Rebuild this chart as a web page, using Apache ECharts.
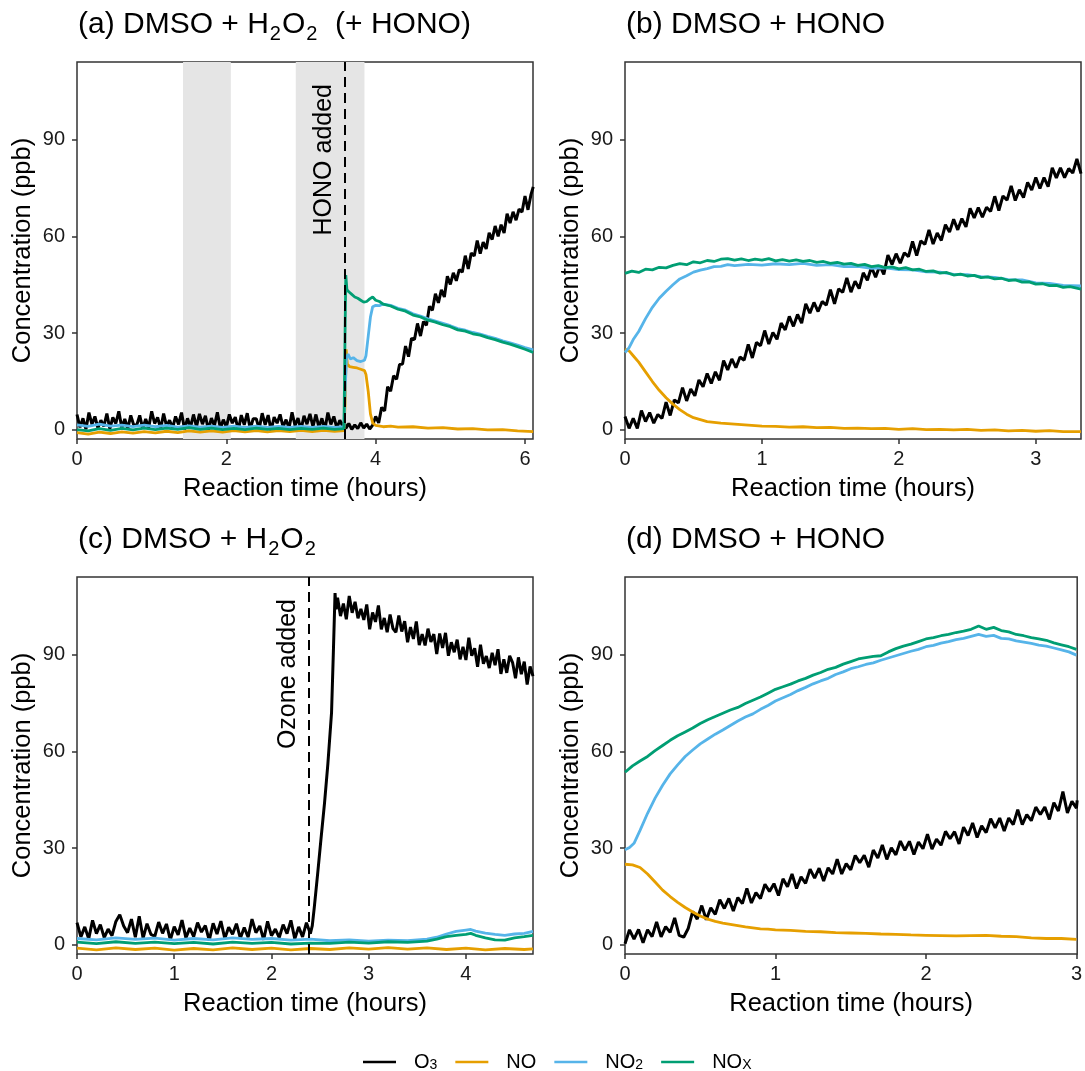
<!DOCTYPE html>
<html>
<head>
<meta charset="utf-8">
<script src="https://cdn.jsdelivr.net/npm/echarts@6/dist/echarts.min.js"></script>
<style>
html, body { margin: 0; padding: 0; background: #fff; }
#chart { width: 1085px; height: 1071px; }
</style>
</head>
<body>
<div id="chart"></div>
<script>
// ---- ticks / events ----
const yTicks = [0, 30, 60, 90];
const xTicksA = [0, 2, 4, 6];
const xTicksB = [0, 1, 2, 3];
const xTicksC = [0, 1, 2, 3, 4];
const xTicksD = [0, 1, 2, 3];
const xMax = [6.107, 3.33, 4.69, 3.005];
const shadeA = [[1.42, 2.06], [2.93, 3.85]];
const honoAdded = 3.577;
const ozoneAdded = 2.379;

// ---- (a) DMSO + H2O2 (+ HONO) ----
const aO3 = [[0,4.8],[0.04,0.8],[0.08,3.6],[0.12,0.2],[0.16,5.4],[0.2,1.7],[0.24,4.2],[0.28,0.6],[0.32,3.0],[0.36,1.1],
  [0.4,5.1],[0.44,0.3],[0.48,3.9],[0.52,2.0],[0.56,5.8],[0.6,0.7],[0.64,3.4],[0.68,0.4],[0.72,4.5],[0.76,1.5],
  [0.8,1.5],[0.84,4.5],[0.88,0.4],[0.92,3.4],[0.96,0.7],[1.0,5.8],[1.04,2.0],[1.08,3.9],[1.12,0.3],[1.16,5.1],
  [1.2,1.1],[1.24,3.0],[1.28,0.6],[1.32,4.2],[1.36,1.7],[1.4,5.4],[1.44,0.2],[1.48,3.6],[1.52,0.8],[1.56,4.8],
  [1.6,1.0],[1.64,5.0],[1.68,1.8],[1.72,4.4],[1.76,0.0],[1.8,3.7],[1.84,1.3],[1.88,5.5],[1.92,0.5],[1.96,3.2],
  [2.0,0.9],[2.04,4.8],[2.08,2.1],[2.12,4.0],[2.16,-0.2],[2.2,4.6],[2.24,1.6],[2.28,5.2],[2.32,0.3],[2.36,3.5],
  [2.4,3.5],[2.44,0.3],[2.48,5.2],[2.52,1.6],[2.56,4.6],[2.6,-0.2],[2.64,4.0],[2.68,2.1],[2.72,4.8],[2.76,0.9],
  [2.8,3.2],[2.84,0.5],[2.88,5.5],[2.92,1.3],[2.96,3.7],[3.0,0.0],[3.04,4.4],[3.08,1.8],[3.12,5.0],[3.16,1.0],
  [3.2,4.8],[3.24,0.8],[3.28,3.6],[3.32,0.2],[3.36,5.4],[3.4,1.7],[3.44,4.2],[3.48,0.6],[3.52,3.0],[3.56,1.1],
  [3.58,2.5],[3.6,0.5],[3.64,2.0],[3.68,0.2],[3.72,1.6],[3.76,0.4],[3.8,2.2],[3.84,0.6],[3.88,1.8],[3.92,0.3],
  [3.96,1.5],[4.0,4.2],[4.04,2.2],[4.08,7.0],[4.12,5.9],[4.16,13.4],[4.2,12.0],[4.24,16.8],[4.28,15.7],[4.32,20.3],
  [4.36,20.4],[4.4,26.0],[4.44,22.7],[4.48,28.4],[4.52,28.0],[4.56,33.0],[4.6,29.1],[4.64,33.6],[4.68,32.4],
  [4.72,38.3],[4.76,37.1],[4.8,42.2],[4.84,39.4],[4.88,43.4],[4.92,41.2],[4.96,47.6],[5.0,45.1],[5.04,48.7],
  [5.08,46.2],[5.12,49.7],[5.16,48.9],[5.2,54.0],[5.24,49.9],[5.28,54.8],[5.32,53.9],[5.36,58.7],[5.4,54.6],
  [5.44,58.2],[5.48,56.1],[5.52,61.1],[5.56,59.0],[5.6,63.2],[5.64,60.0],[5.68,63.6],[5.72,61.0],[5.76,67.0],
  [5.8,64.1],[5.84,67.6],[5.88,65.0],[5.92,68.4],[5.96,67.5],[6.0,72.5],[6.04,68.2],[6.08,72.9],[6.11,75.3]];
const aNO = [[0,-0.8],[0.15,-1.3],[0.3,-0.7],[0.45,-1.1],[0.6,-0.6],[0.75,-1.0],[0.9,-0.5],[1.05,-0.9],[1.2,-0.4],
  [1.35,-0.8],[1.5,-0.3],[1.65,-0.7],[1.8,-0.3],[1.95,-0.7],[2.1,-0.2],[2.25,-0.6],[2.4,-0.2],[2.55,-0.6],
  [2.7,-0.2],[2.85,-0.5],[3.0,-0.1],[3.15,-0.5],[3.3,-0.1],[3.45,-0.4],[3.575,-0.2],
  [3.59,8],[3.605,25],[3.62,20.5],[3.65,19.6],[3.7,19.4],[3.75,19.2],[3.8,18.8],[3.85,18.4],[3.87,17.2],
  [3.9,12],[3.93,5],[3.96,2.2],[4.0,1.4],[4.1,1.0],[4.2,1.2],[4.3,0.9],[4.5,1.0],[4.7,0.6],[4.9,0.7],
  [5.1,0.3],[5.3,0.4],[5.5,0.0],[5.7,0.1],[5.9,-0.3],[6.11,-0.5]];
const aNO2 = [[0,1.6],[0.15,1.1],[0.3,1.8],[0.45,1.2],[0.6,1.5],[0.75,1.0],[0.9,1.5],[1.05,1.0],[1.2,1.4],
  [1.35,0.9],[1.5,1.3],[1.65,0.9],[1.8,1.2],[1.95,0.8],[2.1,1.2],[2.25,0.8],[2.4,1.2],[2.55,0.8],[2.7,1.1],
  [2.85,0.8],[3.0,1.1],[3.15,0.8],[3.3,1.1],[3.45,0.8],[3.575,1.0],
  [3.59,12],[3.61,22.5],[3.63,23.5],[3.66,22.0],[3.7,22.4],[3.75,21.5],[3.8,21.2],[3.85,21.6],[3.87,23],
  [3.9,29],[3.93,35],[3.96,38.2],[4.0,38.6],[4.05,38.5],[4.1,39.0],[4.2,38.6],[4.3,37.7],[4.4,37.1],
  [4.5,36.0],[4.6,35.3],[4.7,34.4],[4.8,33.7],[4.9,33.0],[5.0,32.3],[5.1,31.4],[5.2,30.9],[5.3,30.2],
  [5.4,29.7],[5.5,29.0],[5.6,28.4],[5.7,27.6],[5.8,27.0],[5.9,26.3],[6.0,25.5],[6.11,24.8]];
const aNOx = [[0,0.1],[0.15,-0.3],[0.3,0.4],[0.45,-0.1],[0.6,0.5],[0.75,0.0],[0.9,0.6],[1.05,0.1],[1.2,0.6],
  [1.35,0.2],[1.5,0.7],[1.65,0.2],[1.8,0.6],[1.95,0.1],[2.1,0.5],[2.25,0.1],[2.4,0.6],[2.55,0.2],[2.7,0.5],
  [2.85,0.1],[3.0,0.5],[3.15,0.2],[3.3,0.6],[3.45,0.2],[3.575,0.4],
  [3.59,30],[3.6,48],[3.615,43.5],[3.64,42.8],[3.68,42.0],[3.72,41.2],[3.76,40.8],[3.8,40.2],[3.84,39.6],
  [3.88,39.8],[3.92,40.6],[3.96,41.2],[4.0,40.2],[4.05,39.8],[4.1,39.0],[4.2,38.4],[4.3,37.4],[4.4,36.8],
  [4.5,35.6],[4.6,35.0],[4.7,34.0],[4.8,33.4],[4.9,32.6],[5.0,32.0],[5.1,31.0],[5.2,30.6],[5.3,29.8],
  [5.4,29.4],[5.5,28.6],[5.6,28.0],[5.7,27.2],[5.8,26.6],[5.9,25.8],[6.0,25.0],[6.11,24.0]];

// ---- (b) DMSO + HONO ----
const bO3 = [[0,4.2],[0.03,0.5],[0.06,3.6],[0.09,0.5],[0.12,6.0],[0.15,2.6],[0.18,5.4],[0.21,2.1],[0.24,4.8],
  [0.27,3.6],[0.3,8.6],[0.33,4.5],[0.36,9.3],[0.39,8.4],[0.42,13.1],[0.45,9.0],[0.48,12.7],[0.51,10.6],
  [0.54,15.5],[0.57,13.4],[0.6,17.5],[0.63,14.4],[0.66,18.0],[0.69,15.4],[0.72,21.5],[0.75,18.6],[0.78,22.0],
  [0.81,19.3],[0.84,22.6],[0.87,21.6],[0.9,26.5],[0.93,22.3],[0.96,27.1],[0.99,26.1],[1.02,30.8],[1.05,26.6],
  [1.08,30.2],[1.11,28.1],[1.14,33.1],[1.17,31.0],[1.2,35.2],[1.23,32.1],[1.26,35.8],[1.29,33.1],[1.32,39.1],
  [1.35,36.2],[1.38,39.5],[1.41,36.7],[1.44,39.8],[1.47,38.7],[1.5,43.5],[1.53,39.1],[1.56,43.7],[1.59,42.6],
  [1.62,47.1],[1.65,42.7],[1.68,46.1],[1.71,43.8],[1.74,48.7],[1.77,46.4],[1.8,50.5],[1.83,47.3],[1.86,50.9],
  [1.89,48.2],[1.92,54.2],[1.95,51.3],[1.98,54.6],[2.01,51.7],[2.04,54.9],[2.07,53.7],[2.1,58.4],[2.13,54.0],
  [2.16,58.6],[2.19,57.5],[2.22,62.0],[2.25,57.6],[2.28,61.0],[2.31,58.7],[2.34,63.6],[2.37,61.3],[2.4,65.3],
  [2.43,62.0],[2.46,65.5],[2.49,62.9],[2.52,68.7],[2.55,65.7],[2.58,68.9],[2.61,65.9],[2.64,69.0],[2.67,67.7],
  [2.7,72.4],[2.73,68.0],[2.76,72.5],[2.79,71.2],[2.82,75.6],[2.85,71.1],[2.88,74.4],[2.91,72.0],[2.94,76.7],
  [2.97,74.3],[3.0,78.2],[3.03,74.8],[3.06,78.2],[3.09,75.4],[3.12,81.2],[3.15,78.1],[3.18,81.2],[3.21,78.2],
  [3.24,81.0],[3.27,79.6],[3.3,84.0],[3.33,79.4]];
const bNO = [[0,25],[0.03,24.5],[0.06,23],[0.1,21],[0.15,18],[0.2,15],[0.25,12.3],[0.3,10],[0.35,8],[0.4,6.3],
  [0.45,4.9],[0.5,3.8],[0.55,3.2],[0.6,2.6],[0.7,2.1],[0.8,1.8],[0.9,1.5],[1.0,1.2],[1.1,1.1],[1.2,0.9],
  [1.3,1.0],[1.4,0.7],[1.5,0.8],[1.6,0.5],[1.7,0.6],[1.8,0.4],[1.9,0.5],[2.0,0.2],[2.1,0.4],[2.2,0.1],
  [2.3,0.2],[2.4,0.0],[2.5,0.2],[2.6,-0.1],[2.7,0.0],[2.8,-0.3],[2.9,-0.1],[3.0,-0.4],[3.1,-0.2],[3.2,-0.5],[3.33,-0.5]];
const bNO2 = [[0,24],[0.03,25.5],[0.06,28],[0.1,30.5],[0.15,34.5],[0.2,38],[0.25,40.8],[0.3,43],[0.35,45],
  [0.4,46.8],[0.45,47.8],[0.5,48.9],[0.55,49.5],[0.6,50],[0.65,50.6],[0.7,50.7],[0.75,51.2],[0.8,50.9],
  [0.9,51.3],[1.0,51.1],[1.1,51.5],[1.2,51.2],[1.3,51.6],[1.4,51.0],[1.5,51.2],[1.6,50.6],[1.7,50.7],
  [1.8,50.1],[1.9,50.2],[2.0,49.7],[2.1,49.6],[2.2,49.0],[2.3,48.9],[2.4,48.2],[2.5,48.1],[2.6,47.5],
  [2.7,47.3],[2.8,46.6],[2.9,46.5],[3.0,45.6],[3.1,45.4],[3.2,44.8],[3.33,44.6]];
const bNOx = [[0,48.5],[0.05,49.2],[0.1,48.8],[0.15,49.8],[0.2,49.6],[0.25,50.4],[0.3,50.2],[0.35,51.0],
  [0.4,51.5],[0.45,51.2],[0.5,52.1],[0.55,51.8],[0.6,52.5],[0.65,52.2],[0.7,52.9],[0.75,53.1],[0.8,52.6],
  [0.85,53.0],[0.9,52.5],[0.95,52.9],[1.0,52.6],[1.05,53.1],[1.1,52.4],[1.15,52.8],[1.2,52.3],[1.25,52.7],
  [1.3,52.2],[1.35,52.5],[1.4,51.9],[1.45,52.2],[1.5,51.6],[1.55,51.9],[1.6,51.4],[1.65,51.6],[1.7,51.0],
  [1.75,51.3],[1.8,50.6],[1.85,50.9],[1.9,50.3],[1.95,50.5],[2.0,49.9],[2.05,50.3],[2.1,49.6],[2.15,49.8],
  [2.2,49.1],[2.25,49.3],[2.3,48.6],[2.35,48.8],[2.4,48.0],[2.45,48.3],[2.5,47.7],[2.55,47.9],[2.6,47.2],
  [2.65,47.4],[2.7,46.8],[2.75,47.0],[2.8,46.3],[2.85,46.5],[2.9,45.8],[2.95,45.9],[3.0,45.2],[3.05,45.3],
  [3.1,44.7],[3.15,44.8],[3.2,44.2],[3.25,44.4],[3.33,43.6]];

// ---- (c) DMSO + H2O2 ----
const cO3 = [[0,6.9],[0.04,2.5],[0.08,5.6],[0.12,1.9],[0.16,7.6],[0.2,3.5],[0.24,6.3],[0.28,2.3],[0.32,4.9],
  [0.36,2.9],[0.4,7.3],[0.44,9.4],[0.48,5.9],[0.52,3.8],[0.56,8.0],[0.6,2.4],[0.64,8.9],[0.68,2.1],[0.72,6.6],
  [0.76,3.3],[0.8,2.7],[0.84,7.1],[0.88,3.6],[0.92,6.5],[0.96,1.6],[1.0,5.7],[1.04,3.1],[1.08,7.7],[1.12,2.2],
  [1.16,5.2],[1.2,2.6],[1.24,6.9],[1.28,4.0],[1.32,6.0],[1.36,1.4],[1.4,6.7],[1.44,3.4],[1.48,7.4],[1.52,2.0],
  [1.56,5.5],[1.6,3.3],[1.64,6.6],[1.68,2.1],[1.72,5.4],[1.76,2.4],[1.8,8.0],[1.84,3.8],[1.88,5.9],[1.92,1.6],
  [1.96,7.3],[2.0,2.9],[2.04,4.9],[2.08,2.3],[2.12,6.3],[2.16,3.5],[2.2,7.6],[2.24,1.9],[2.28,5.6],[2.32,2.5],
  [2.36,6.9],[2.4,3.5],[2.42,6],[2.44,11.5],[2.475,22],[2.51,33],[2.546,44],[2.58,56],[2.618,72],[2.636,90],
  [2.654,109],[2.665,104],[2.68,107.6],[2.71,101.9],[2.74,105.8],[2.77,100.9],[2.8,108.1],[2.83,102.9],
  [2.86,106.3],[2.89,101.2],[2.92,104.1],[2.95,100.7],[2.98,105.5],[3.01,97.8],[3.04,103.0],[3.07,100.1],
  [3.1,105.2],[3.13,97.8],[3.16,101.3],[3.19,96.9],[3.22,102.4],[3.25,98.0],[3.28,96.9],[3.31,102.1],
  [3.34,97.1],[3.37,100.3],[3.4,93.8],[3.43,98.5],[3.46,94.8],[3.49,100.2],[3.52,92.9],[3.55,96.3],
  [3.58,92.8],[3.61,98.0],[3.64,93.9],[3.67,96.3],[3.7,90.1],[3.73,96.5],[3.76,92.0],[3.79,96.7],
  [3.82,89.6],[3.85,93.8],[3.88,90.7],[3.91,94.6],[3.94,88.5],[3.97,92.4],[4.0,88.3],[4.03,95.2],
  [4.06,89.6],[4.09,91.9],[4.12,86.2],[4.15,93.0],[4.18,87.1],[4.21,89.5],[4.24,85.8],[4.27,90.5],
  [4.3,86.7],[4.33,91.6],[4.36,84.0],[4.39,88.5],[4.42,84.3],[4.45,89.6],[4.48,87.5],[4.51,82.6],
  [4.54,89.1],[4.57,83.9],[4.6,87.8],[4.63,80.7],[4.66,86.3],[4.69,83.3]];
const cNO = [[0,-1.0],[0.2,-1.5],[0.4,-0.9],[0.6,-1.4],[0.8,-1.0],[1.0,-1.6],[1.2,-1.1],[1.4,-1.5],[1.6,-0.9],
  [1.8,-1.4],[2.0,-1.0],[2.2,-1.5],[2.4,-1.1],[2.6,-1.4],[2.8,-0.9],[3.0,-1.3],[3.2,-0.8],[3.4,-1.3],
  [3.6,-0.9],[3.8,-1.4],[4.0,-1.0],[4.2,-1.5],[4.4,-1.1],[4.6,-1.4],[4.69,-1.2]];
const cNO2 = [[0,2.0],[0.2,1.6],[0.4,2.2],[0.6,1.7],[0.8,2.1],[1.0,1.5],[1.2,2.0],[1.4,1.6],[1.6,2.2],[1.8,1.7],
  [2.0,2.0],[2.2,1.5],[2.4,1.8],[2.6,1.3],[2.8,1.6],[3.0,1.2],[3.2,1.5],[3.4,1.3],[3.6,1.8],[3.7,2.4],
  [3.8,3.4],[3.9,4.2],[4.0,4.6],[4.05,4.8],[4.1,4.3],[4.2,3.7],[4.3,3.3],[4.4,3.0],[4.5,3.4],[4.6,3.6],[4.69,4.2]];
const cNOx = [[0,0.9],[0.2,0.4],[0.4,1.0],[0.6,0.5],[0.8,0.9],[1.0,0.4],[1.2,0.8],[1.4,0.3],[1.6,0.9],[1.8,0.5],
  [2.0,0.8],[2.2,0.3],[2.4,0.6],[2.6,0.5],[2.8,0.9],[3.0,0.6],[3.2,1.0],[3.4,0.8],[3.6,1.2],[3.7,1.8],
  [3.8,2.6],[3.9,3.0],[4.0,3.3],[4.05,3.6],[4.1,3.0],[4.2,2.2],[4.3,1.6],[4.4,1.5],[4.5,2.2],[4.6,2.6],[4.69,3.0]];

// ---- (d) DMSO + HONO ----
const dO3 = [[0,0.4],[0.03,4.7],[0.06,1.8],[0.09,4.8],[0.12,0.7],[0.15,4.7],[0.18,2.6],[0.21,7.1],[0.24,2.5],
  [0.27,5.7],[0.3,3.9],[0.33,8.4],[0.36,3.0],[0.39,2.4],[0.42,5.1],[0.45,10.4],[0.48,8.0],[0.51,12.2],
  [0.54,7.8],[0.57,11.5],[0.6,9.5],[0.63,14.0],[0.66,11.3],[0.69,14.4],[0.72,10.5],[0.75,14.7],[0.78,12.8],
  [0.81,17.5],[0.84,13.0],[0.87,16.2],[0.9,14.4],[0.93,18.8],[0.96,16.6],[0.99,19.0],[1.02,15.3],[1.05,20.5],
  [1.08,18.0],[1.11,22.0],[1.14,17.5],[1.17,21.1],[1.2,19.1],[1.23,23.5],[1.26,20.7],[1.29,23.8],[1.32,19.8],
  [1.35,23.9],[1.38,22.0],[1.41,26.6],[1.44,22.0],[1.47,25.2],[1.5,23.3],[1.53,27.7],[1.56,25.5],[1.59,27.8],
  [1.62,24.1],[1.65,29.4],[1.68,26.9],[1.71,31.0],[1.74,26.5],[1.77,30.1],[1.8,27.9],[1.83,32.2],[1.86,29.3],
  [1.89,32.1],[1.92,28.0],[1.95,31.9],[1.98,29.8],[2.01,34.3],[2.04,29.7],[2.07,32.8],[2.1,30.9],[2.13,35.2],
  [2.16,32.9],[2.19,35.1],[2.22,31.3],[2.25,36.5],[2.28,33.9],[2.31,37.8],[2.34,33.3],[2.37,36.9],[2.4,34.8],
  [2.43,39.1],[2.46,36.3],[2.49,39.3],[2.52,35.3],[2.55,39.3],[2.58,37.3],[2.61,41.9],[2.64,37.3],[2.67,40.4],
  [2.7,38.5],[2.73,42.7],[2.76,40.4],[2.79,42.7],[2.82,38.9],[2.85,44.1],[2.88,41.5],[2.91,47.5],[2.94,40.9],
  [2.97,44.5],[3.0,42.4],[3.005,44.8]];
const dNO = [[0,25],[0.05,24.8],[0.1,24.0],[0.15,22.0],[0.2,19.5],[0.25,17.0],[0.3,15.0],[0.35,13.2],[0.4,11.6],
  [0.45,10.2],[0.5,9.0],[0.55,8.0],[0.6,7.3],[0.65,6.8],[0.7,6.4],[0.75,6.0],[0.8,5.6],[0.85,5.3],[0.9,5.0],
  [0.95,4.9],[1.0,4.7],[1.1,4.5],[1.2,4.2],[1.3,4.1],[1.4,3.8],[1.5,3.7],[1.6,3.6],[1.7,3.4],[1.8,3.3],
  [1.9,3.1],[2.0,3.0],[2.1,2.9],[2.2,2.8],[2.3,2.9],[2.4,3.0],[2.5,2.7],[2.6,2.6],[2.7,2.2],[2.8,2.0],
  [2.9,2.0],[3.0,1.7]];
const dNO2 = [[0,29.5],[0.03,30.2],[0.06,31.5],[0.1,35.5],[0.15,40.8],[0.2,45.5],[0.25,49.5],[0.3,53.0],
  [0.35,55.8],[0.4,58.4],[0.45,60.4],[0.5,62.3],[0.55,63.8],[0.6,65.3],[0.65,66.6],[0.7,68.0],[0.75,69.4],
  [0.8,70.6],[0.85,71.6],[0.9,73.0],[0.95,74.2],[1.0,75.6],[1.05,76.6],[1.1,77.6],[1.15,78.8],[1.2,79.8],
  [1.25,80.9],[1.3,81.8],[1.35,82.6],[1.4,83.8],[1.45,84.6],[1.5,85.6],[1.55,86.2],[1.6,86.9],[1.65,87.4],
  [1.7,88.2],[1.75,88.9],[1.8,89.6],[1.85,90.3],[1.9,91.0],[1.95,91.6],[2.0,92.4],[2.05,92.8],[2.1,93.5],
  [2.15,94.0],[2.2,94.6],[2.25,95.0],[2.3,95.6],[2.35,96.2],[2.4,95.6],[2.45,95.9],[2.5,95.0],[2.55,94.8],
  [2.6,94.2],[2.65,93.8],[2.7,93.4],[2.75,92.9],[2.8,92.6],[2.85,92.0],[2.9,91.4],[2.95,90.8],[3.0,89.8]];
const dNOx = [[0,53.5],[0.05,55.5],[0.1,57.0],[0.15,58.4],[0.2,60.2],[0.25,61.8],[0.3,63.4],[0.35,64.8],
  [0.4,66.0],[0.45,67.2],[0.5,68.6],[0.55,69.8],[0.6,70.8],[0.65,71.8],[0.7,72.8],[0.75,73.6],[0.8,74.8],
  [0.85,75.8],[0.9,76.8],[0.95,78.0],[1.0,79.2],[1.05,80.0],[1.1,80.8],[1.15,81.8],[1.2,82.6],[1.25,83.6],
  [1.3,84.4],[1.35,85.4],[1.4,86.0],[1.45,87.0],[1.5,87.8],[1.55,88.6],[1.6,89.0],[1.65,89.4],[1.7,89.6],
  [1.75,90.8],[1.8,91.8],[1.85,92.6],[1.9,93.2],[1.95,94.0],[2.0,94.8],[2.05,95.2],[2.1,95.8],[2.15,96.2],
  [2.2,96.8],[2.25,97.2],[2.3,97.8],[2.35,98.8],[2.4,97.8],[2.45,98.4],[2.5,97.4],[2.55,97.0],[2.6,96.2],
  [2.65,95.8],[2.7,95.2],[2.75,94.8],[2.8,94.4],[2.85,93.6],[2.9,93.0],[2.95,92.4],[3.0,91.6]];

const colors = { O3: '#000000', NO: '#E69F00', NO2: '#56B4E9', NOx: '#009E73' };
const legendText = { O3: '{f|O}{s|3}', NO: '{f|NO}', NO2: '{f|NO}{s|2}', NOx: '{f|NO}{s|X}' };
const font = 'Liberation Sans, Arial, sans-serif';

var myChart = echarts.init(document.getElementById('chart'));

function xAxisOf(i, ticks) {
    return {
        type: 'value', gridIndex: i, min: 0, max: xMax[i],
        name: 'Reaction time (hours)', nameLocation: 'middle', nameGap: 37,
        nameTextStyle: { fontSize: 25.5, color: '#000', fontFamily: font },
        axisLine: { show: false, onZero: false },
        axisTick: { show: true, length: 5, customValues: ticks, lineStyle: { color: '#333', width: 1.5 } },
        axisLabel: { customValues: ticks, fontSize: 20, color: '#1a1a1a', margin: 10, fontFamily: font },
        splitLine: { show: false }
    };
}

function yAxisOf(i) {
    return {
        type: 'value', gridIndex: i, min: -2.8, max: 114,
        name: 'Concentration (ppb)', nameLocation: 'middle', nameGap: 41,
        nameTextStyle: { fontSize: 25.5, color: '#000', fontFamily: font },
        axisLine: { show: false, onZero: false },
        axisTick: { show: true, length: 5, customValues: yTicks, lineStyle: { color: '#333', width: 1.5 } },
        axisLabel: { customValues: yTicks, fontSize: 20, color: '#1a1a1a', margin: 12, fontFamily: font },
        splitLine: { show: false }
    };
}

function line(i, name, data, extra) {
    return Object.assign({
        name: name, type: 'line', xAxisIndex: i, yAxisIndex: i,
        data: data, showSymbol: false, symbol: 'none', animation: false,
        lineStyle: { color: colors[name], width: name === 'O3' ? 3 : 2.8 },
        itemStyle: { color: colors[name] },
        emphasis: { disabled: true }
    }, extra || {});
}

function addedLine(x, text) {
    return {
        silent: true, symbol: ['none', 'none'], animation: false,
        lineStyle: { color: '#000', type: [10, 6], width: 2 },
        label: {
            show: true, formatter: text, position: 'insideEndTop',
            fontSize: 25, color: '#000', fontFamily: font, distance: [22, 8]
        },
        data: [{ xAxis: x }]
    };
}

function titleOf(text, left, top) {
    return {
        text: text, left: left, top: top, padding: 0,
        textStyle: {
            fontFamily: font, fontWeight: 'normal',
            rich: {
                m: { fontSize: 30, lineHeight: 38, color: '#000', fontFamily: font, fontWeight: 'normal' },
                s: { fontSize: 20, lineHeight: 22, verticalAlign: 'bottom', color: '#000', fontFamily: font,
                     fontWeight: 'normal', padding: [0, 1, 0, 1] }
            }
        }
    };
}

myChart.setOption({
    animation: false,
    textStyle: { fontFamily: font },
    title: [
        titleOf('{m|(a) DMSO + H}{s|2}{m|O}{s|2}{m|  (+ HONO)}', 78, 6),
        titleOf('{m|(b) DMSO + HONO}', 626, 6),
        titleOf('{m|(c) DMSO + H}{s|2}{m|O}{s|2}', 78, 521),
        titleOf('{m|(d) DMSO + HONO}', 626, 521)
    ],
    legend: {
        data: ['O3', 'NO', 'NO2', 'NOx'],
        left: 363, top: 1052, padding: 0,
        icon: 'rect', itemWidth: 33, itemHeight: 2.5, itemGap: 18,
        selectedMode: false,
        formatter: function (name) { return legendText[name]; },
        textStyle: {
            fontFamily: font, fontSize: 20, color: '#000',
            rich: {
                f: { fontSize: 20, padding: [0, 0, 0, 13], color: '#000', fontFamily: font },
                s: { fontSize: 14, lineHeight: 15, verticalAlign: 'bottom', color: '#000', fontFamily: font }
            }
        }
    },
    grid: [
        { left: 77, top: 62, width: 456, height: 377 },
        { left: 625, top: 62, width: 456, height: 377 },
        { left: 77, top: 577, width: 456, height: 377 },
        { left: 625, top: 577, width: 455, height: 377 }
    ].map(g => Object.assign(g, { show: true, borderColor: '#333', borderWidth: 1.5, backgroundColor: 'transparent' })),
    xAxis: [xAxisOf(0, xTicksA), xAxisOf(1, xTicksB), xAxisOf(2, xTicksC), xAxisOf(3, xTicksD)],
    yAxis: [yAxisOf(0), yAxisOf(1), yAxisOf(2), yAxisOf(3)],
    series: [
        line(0, 'O3', aO3, {
            markArea: {
                silent: true, animation: false,
                itemStyle: { color: '#e5e5e5' },
                data: shadeA.map(r => [{ xAxis: r[0] }, { xAxis: r[1] }])
            }
        }),
        line(0, 'NO', aNO),
        line(0, 'NO2', aNO2),
        line(0, 'NOx', aNOx, { markLine: addedLine(honoAdded, 'HONO added') }),

        line(1, 'O3', bO3),
        line(1, 'NO', bNO),
        line(1, 'NO2', bNO2),
        line(1, 'NOx', bNOx),

        line(2, 'O3', cO3),
        line(2, 'NO', cNO),
        line(2, 'NO2', cNO2),
        line(2, 'NOx', cNOx, { markLine: addedLine(ozoneAdded, 'Ozone added') }),

        line(3, 'O3', dO3),
        line(3, 'NO', dNO),
        line(3, 'NO2', dNO2),
        line(3, 'NOx', dNOx)
    ]
});
</script>
</body>
</html>
